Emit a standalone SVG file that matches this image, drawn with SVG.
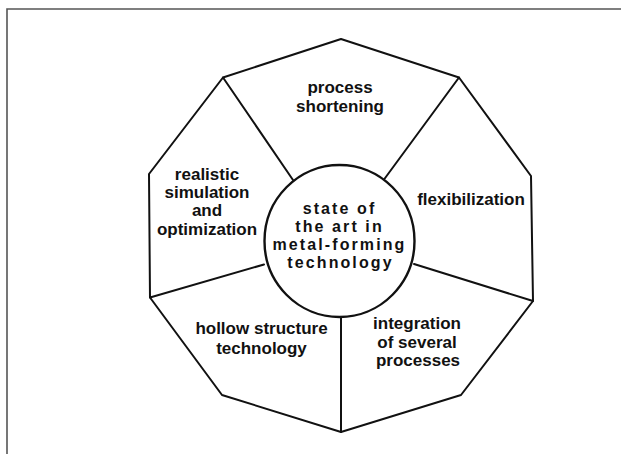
<svg xmlns="http://www.w3.org/2000/svg" width="621" height="454" viewBox="0 0 621 454">
<style>
.frame{fill:none;stroke:#555;stroke-width:1.6}
.line{fill:none;stroke:#111;stroke-width:2;stroke-linejoin:round;stroke-linecap:round}
.hub{fill:#fff;stroke:#111;stroke-width:2.4}
.lbl{font-family:"Liberation Sans",Arial,sans-serif;font-weight:bold;font-size:17px;fill:#111;text-anchor:middle}
.ctr{font-family:"Liberation Sans",Arial,sans-serif;font-weight:bold;font-size:16px;letter-spacing:2.1px;fill:#111;text-anchor:middle}
</style>
<rect width="621" height="454" fill="#fff"/>
<path class="frame" d="M7,454 V9 H621"/>
<g id="outline">
<polygon class="line" points="341,39 459,77.5 531,176 533,301 461,395 341,432 222,395 150,297.5 149,174 223,77.5"/>
</g>
<g id="connectors">
<line class="line" x1="223" y1="77.5" x2="293" y2="180"/>
<line class="line" x1="459" y1="77.5" x2="384" y2="179.5"/>
<line class="line" x1="533" y1="301" x2="414" y2="264"/>
<line class="line" x1="341" y1="432" x2="341" y2="316.5"/>
<line class="line" x1="150" y1="297.5" x2="264" y2="264.5"/>
</g>
<g id="center">
<ellipse class="hub" cx="339.5" cy="241" rx="75" ry="76"/>
<text class="ctr" x="339.5" y="213.5">state of</text>
<text class="ctr" x="339.5" y="231.5">the art in</text>
<text class="ctr" x="339.5" y="250">metal-forming</text>
<text class="ctr" x="340.5" y="268">technology</text>
</g>
<g id="process-shortening">
<text class="lbl" x="340" y="92.5">process</text>
<text class="lbl" x="340" y="112">shortening</text>
</g>
<g id="flexibilization">
<text class="lbl" x="471" y="205">flexibilization</text>
</g>
<g id="integration">
<text class="lbl" x="417" y="328.5">integration</text>
<text class="lbl" x="417" y="347.5">of several</text>
<text class="lbl" x="418" y="366">processes</text>
</g>
<g id="hollow-structure">
<text class="lbl" x="261.5" y="334">hollow structure</text>
<text class="lbl" x="261.5" y="353.5">technology</text>
</g>
<g id="realistic-simulation">
<text class="lbl" x="207" y="180">realistic</text>
<text class="lbl" x="207" y="198">simulation</text>
<text class="lbl" x="207" y="216">and</text>
<text class="lbl" x="207" y="235">optimization</text>
</g>
</svg>
